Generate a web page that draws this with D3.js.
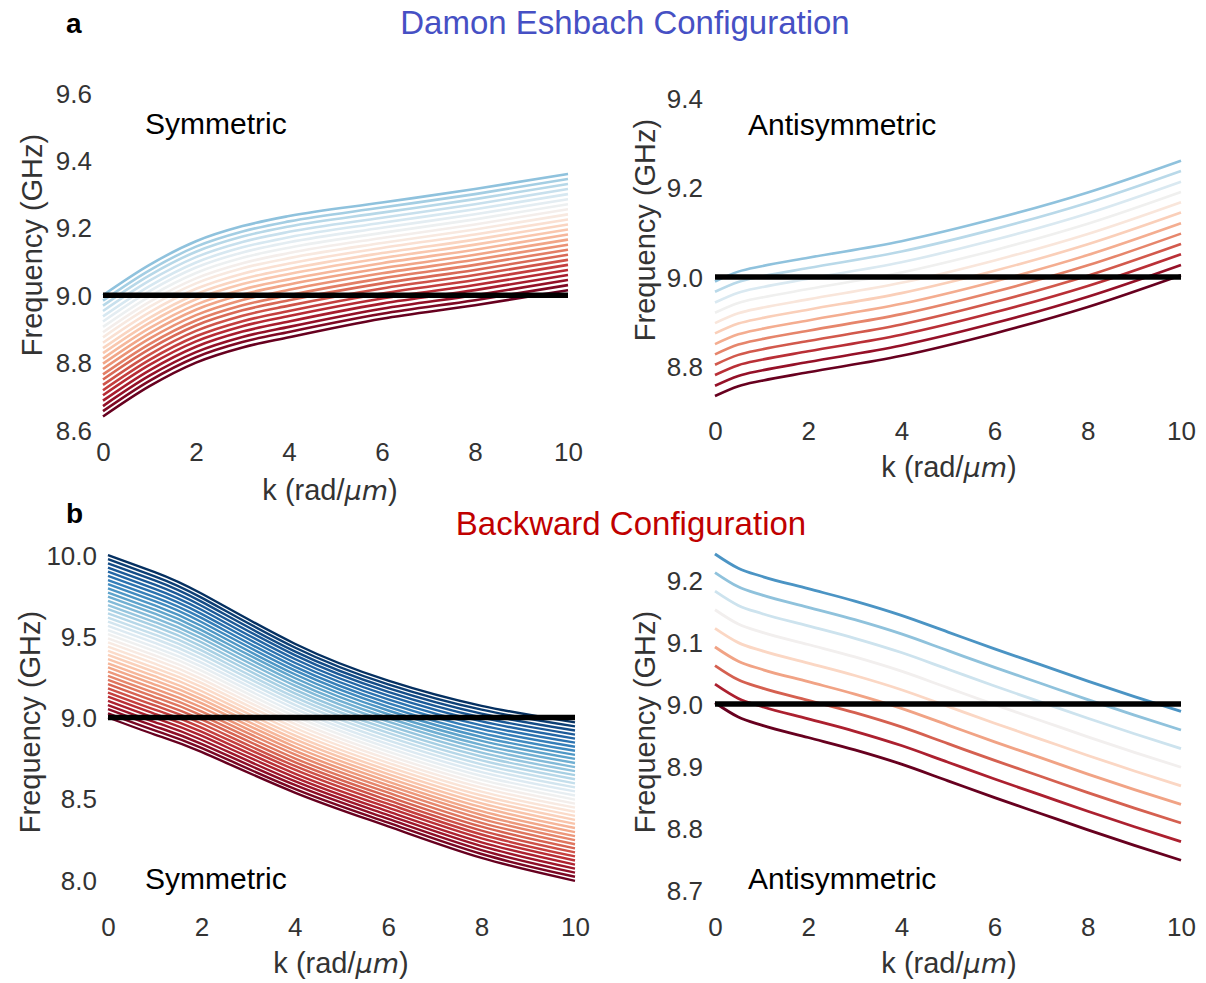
<!DOCTYPE html>
<html>
<head>
<meta charset="utf-8">
<script src="https://cdn.jsdelivr.net/npm/d3@7"></script>
<style>
body { margin: 0; background: #fff; }
svg { display: block; font-family: "Liberation Sans", Arial, sans-serif; }
</style>
</head>
<body>
<div id="chart"></div>
<script>
// ---- data ----
const kTicks = [0, 2, 4, 6, 8, 10]
const refFreq = 9.0

// (a) Damon Eshbach, symmetric: columns = frequency of every curve (top -> bottom) at each k
const aSymK = [0, 1, 2, 3, 4, 6, 8, 10]
const aSymCols = [
  [9.000, 8.984, 8.969, 8.953, 8.937, 8.922, 8.906, 8.890, 8.875, 8.859, 8.843, 8.828, 8.812, 8.797, 8.781, 8.765, 8.750, 8.734, 8.718, 8.703, 8.687, 8.671, 8.656, 8.640],
  [9.090, 9.074, 9.059, 9.043, 9.027, 9.012, 8.996, 8.980, 8.965, 8.949, 8.933, 8.918, 8.902, 8.887, 8.871, 8.855, 8.840, 8.824, 8.808, 8.793, 8.777, 8.761, 8.746, 8.730],
  [9.160, 9.144, 9.129, 9.113, 9.097, 9.082, 9.066, 9.050, 9.035, 9.019, 9.003, 8.988, 8.972, 8.957, 8.941, 8.925, 8.910, 8.894, 8.878, 8.863, 8.847, 8.831, 8.816, 8.800],
  [9.205, 9.189, 9.174, 9.158, 9.142, 9.127, 9.111, 9.095, 9.080, 9.064, 9.048, 9.033, 9.017, 9.002, 8.986, 8.970, 8.955, 8.939, 8.923, 8.908, 8.892, 8.876, 8.861, 8.845],
  [9.235, 9.219, 9.204, 9.188, 9.172, 9.157, 9.141, 9.125, 9.110, 9.094, 9.078, 9.063, 9.047, 9.032, 9.016, 9.000, 8.985, 8.969, 8.953, 8.938, 8.922, 8.906, 8.891, 8.875],
  [9.275, 9.260, 9.245, 9.230, 9.215, 9.200, 9.185, 9.170, 9.155, 9.140, 9.125, 9.110, 9.095, 9.080, 9.065, 9.050, 9.035, 9.020, 9.005, 8.990, 8.975, 8.960, 8.945, 8.930],
  [9.315, 9.300, 9.285, 9.270, 9.255, 9.240, 9.225, 9.210, 9.195, 9.180, 9.165, 9.150, 9.135, 9.120, 9.105, 9.090, 9.075, 9.060, 9.045, 9.030, 9.015, 9.000, 8.985, 8.970],
  [9.360, 9.345, 9.330, 9.315, 9.300, 9.285, 9.270, 9.255, 9.240, 9.225, 9.210, 9.195, 9.180, 9.165, 9.150, 9.135, 9.120, 9.105, 9.090, 9.075, 9.060, 9.045, 9.030, 9.015]
]
const aSymTicks = [8.6, 8.8, 9.0, 9.2, 9.4, 9.6]

// (a) Damon Eshbach, antisymmetric
const aAntiK = [0, 0.5, 1, 2, 4, 6, 8, 10]
const aAntiCols = [
  [8.990, 8.967, 8.943, 8.920, 8.897, 8.874, 8.850, 8.827, 8.804, 8.781, 8.757, 8.734],
  [9.012, 8.989, 8.965, 8.942, 8.919, 8.896, 8.872, 8.849, 8.826, 8.803, 8.779, 8.756],
  [9.024, 9.001, 8.977, 8.954, 8.931, 8.908, 8.884, 8.861, 8.838, 8.815, 8.791, 8.768],
  [9.043, 9.020, 8.996, 8.973, 8.950, 8.927, 8.903, 8.880, 8.857, 8.834, 8.810, 8.787],
  [9.080, 9.057, 9.033, 9.010, 8.987, 8.964, 8.940, 8.917, 8.894, 8.871, 8.847, 8.824],
  [9.130, 9.107, 9.083, 9.060, 9.037, 9.014, 8.990, 8.967, 8.944, 8.921, 8.897, 8.874],
  [9.189, 9.166, 9.142, 9.119, 9.096, 9.073, 9.049, 9.026, 9.003, 8.980, 8.956, 8.933],
  [9.260, 9.237, 9.213, 9.190, 9.167, 9.144, 9.120, 9.097, 9.074, 9.051, 9.027, 9.004]
]
const aAntiTicks = [8.8, 9.0, 9.2, 9.4]

// (b) Backward, symmetric
const bSymK = [0, 1, 2, 4, 6, 8, 10]
const bSymCols = [
  [10.000, 9.974, 9.949, 9.923, 9.897, 9.872, 9.846, 9.821, 9.795, 9.769, 9.744, 9.718, 9.692, 9.667, 9.641, 9.615, 9.590, 9.564, 9.538, 9.513, 9.487, 9.462, 9.436, 9.410, 9.385, 9.359, 9.333, 9.308, 9.282, 9.256, 9.231, 9.205, 9.179, 9.154, 9.128, 9.103, 9.077, 9.051, 9.026, 9.000],
  [9.895, 9.869, 9.844, 9.818, 9.792, 9.767, 9.741, 9.716, 9.690, 9.664, 9.639, 9.613, 9.587, 9.562, 9.536, 9.510, 9.485, 9.459, 9.433, 9.408, 9.382, 9.357, 9.331, 9.305, 9.280, 9.254, 9.228, 9.203, 9.177, 9.151, 9.126, 9.100, 9.074, 9.049, 9.023, 8.998, 8.972, 8.946, 8.921, 8.895],
  [9.763, 9.738, 9.713, 9.688, 9.663, 9.638, 9.613, 9.588, 9.563, 9.538, 9.513, 9.488, 9.463, 9.438, 9.413, 9.388, 9.363, 9.338, 9.313, 9.288, 9.263, 9.238, 9.213, 9.188, 9.163, 9.138, 9.113, 9.088, 9.063, 9.038, 9.013, 8.988, 8.963, 8.938, 8.913, 8.888, 8.863, 8.838, 8.813, 8.788],
  [9.454, 9.431, 9.407, 9.384, 9.360, 9.337, 9.313, 9.290, 9.266, 9.243, 9.219, 9.196, 9.172, 9.149, 9.125, 9.102, 9.078, 9.055, 9.031, 9.008, 8.984, 8.961, 8.937, 8.914, 8.890, 8.867, 8.843, 8.820, 8.796, 8.773, 8.749, 8.726, 8.702, 8.679, 8.655, 8.632, 8.608, 8.585, 8.561, 8.538],
  [9.227, 9.204, 9.181, 9.158, 9.135, 9.112, 9.089, 9.066, 9.043, 9.020, 8.997, 8.974, 8.951, 8.928, 8.905, 8.882, 8.859, 8.836, 8.813, 8.790, 8.767, 8.744, 8.721, 8.698, 8.675, 8.652, 8.629, 8.606, 8.583, 8.560, 8.537, 8.514, 8.491, 8.468, 8.445, 8.422, 8.399, 8.376, 8.353, 8.330],
  [9.072, 9.048, 9.024, 9.000, 8.976, 8.952, 8.928, 8.904, 8.880, 8.856, 8.832, 8.808, 8.784, 8.760, 8.736, 8.712, 8.688, 8.664, 8.640, 8.616, 8.592, 8.568, 8.544, 8.520, 8.496, 8.472, 8.448, 8.424, 8.400, 8.376, 8.352, 8.328, 8.304, 8.280, 8.256, 8.232, 8.208, 8.184, 8.160, 8.136],
  [8.970, 8.945, 8.920, 8.895, 8.870, 8.845, 8.820, 8.795, 8.770, 8.745, 8.720, 8.695, 8.670, 8.645, 8.620, 8.595, 8.570, 8.545, 8.520, 8.495, 8.470, 8.445, 8.420, 8.395, 8.370, 8.345, 8.320, 8.295, 8.270, 8.245, 8.220, 8.195, 8.170, 8.145, 8.120, 8.095, 8.070, 8.045, 8.020, 7.995]
]
const bSymTicks = [8.0, 8.5, 9.0, 9.5, 10.0]

// (b) Backward, antisymmetric: one row per curve (top -> bottom)
const bAntiK = [0, 0.5, 1, 2, 3, 4, 5, 6, 7, 8, 9, 10]
const bAntiRows = [
  [9.242, 9.219, 9.206, 9.186, 9.166, 9.143, 9.116, 9.089, 9.063, 9.037, 9.012, 8.988],
  [9.212, 9.189, 9.176, 9.156, 9.136, 9.113, 9.086, 9.059, 9.033, 9.007, 8.982, 8.958],
  [9.182, 9.159, 9.146, 9.126, 9.106, 9.083, 9.056, 9.029, 9.003, 8.977, 8.952, 8.928],
  [9.152, 9.129, 9.116, 9.096, 9.076, 9.053, 9.026, 8.999, 8.973, 8.947, 8.922, 8.898],
  [9.122, 9.099, 9.086, 9.066, 9.046, 9.023, 8.996, 8.969, 8.943, 8.917, 8.892, 8.868],
  [9.092, 9.069, 9.056, 9.036, 9.016, 8.993, 8.966, 8.939, 8.913, 8.887, 8.862, 8.838],
  [9.062, 9.039, 9.026, 9.006, 8.986, 8.963, 8.936, 8.909, 8.883, 8.857, 8.832, 8.808],
  [9.032, 9.009, 8.996, 8.976, 8.956, 8.933, 8.906, 8.879, 8.853, 8.827, 8.802, 8.778],
  [9.002, 8.979, 8.966, 8.946, 8.926, 8.903, 8.876, 8.849, 8.823, 8.797, 8.772, 8.748]
]
const bAntiTicks = [8.7, 8.8, 8.9, 9.0, 9.1, 9.2]

// turn column tables into one point list per curve
function fromCols(ks, cols) {
  return cols[0].map((_, i) => ks.map((k, j) => ({ k: k, f: cols[j][i] })))
}
function fromRows(ks, rows) {
  return rows.map(row => row.map((f, j) => ({ k: ks[j], f: f })))
}

const width = 1206
const height = 983

const panels = [
  { curves: fromCols(aSymK, aSymCols), ticks: aSymTicks, x0: 103, x1: 568,
    yDomain: [8.6, 9.6], yRange: [430, 93], tickRight: 92, xTickY: 452,
    xLabelX: 330, xLabelY: 490, yLabelX: 32, yLabelY: 245, curve: d3.curveMonotoneX,
    note: "Symmetric", noteX: 145, noteY: 123, tTop: 0.7, lw: 2.6 },
  { curves: fromCols(aAntiK, aAntiCols), ticks: aAntiTicks, x0: 715, x1: 1181,
    yDomain: [8.7, 9.4], yRange: [411.25, 98], tickRight: 703, xTickY: 431,
    xLabelX: 949, xLabelY: 467, yLabelX: 645, yLabelY: 230, curve: d3.curveMonotoneX,
    note: "Antisymmetric", noteX: 748, noteY: 124, tTop: 0.7, lw: 2.6 },
  { curves: fromCols(bSymK, bSymCols), ticks: bSymTicks, x0: 108, x1: 575,
    yDomain: [8.0, 10.0], yRange: [880, 555], tickRight: 97, xTickY: 927,
    xLabelX: 341, xLabelY: 963, yLabelX: 30, yLabelY: 722, curve: d3.curveNatural,
    note: "Symmetric", noteX: 145, noteY: 878, tTop: 1.0, lw: 2.4 },
  { curves: fromRows(bAntiK, bAntiRows), ticks: bAntiTicks, x0: 715, x1: 1181,
    yDomain: [8.7, 9.2], yRange: [890, 580], tickRight: 703, xTickY: 927,
    xLabelX: 949, xLabelY: 963, yLabelX: 645, yLabelY: 722, curve: d3.curveMonotoneX,
    note: "Antisymmetric", noteX: 748, noteY: 878, tTop: 0.8, lw: 2.8 }
]

const svg = d3.select("#chart")
  .append("svg")
  .attr("width", width)
  .attr("height", height)
  .attr("viewBox", [0, 0, width, height])

// headings
svg.append("text").attr("x", 66).attr("y", 23).attr("dy", "0.35em")
  .style("font-size", "28px").style("font-weight", "bold").text("a")
svg.append("text").attr("x", 66).attr("y", 513).attr("dy", "0.35em")
  .style("font-size", "28px").style("font-weight", "bold").text("b")
svg.append("text").attr("x", 625).attr("y", 22).attr("dy", "0.35em")
  .attr("text-anchor", "middle").attr("fill", "#4650c4")
  .style("font-size", "33px").text("Damon Eshbach Configuration")
svg.append("text").attr("x", 631).attr("y", 523).attr("dy", "0.35em")
  .attr("text-anchor", "middle").attr("fill", "#c00000")
  .style("font-size", "33px").text("Backward Configuration")

panels.forEach(p => {
  const x = d3.scaleLinear().domain([0, 10]).range([p.x0, p.x1])
  const y = d3.scaleLinear().domain(p.yDomain).range(p.yRange)
  const n = p.curves.length
  const g = svg.append("g")

  const line = d3.line()
    .x(d => x(d.k))
    .y(d => y(d.f))
    .curve(p.curve)

  // curves, dark red at the bottom up to blue at the top
  g.append("g")
    .selectAll("path")
    .data(p.curves.slice().reverse())
    .join("path")
    .attr("d", line)
    .attr("fill", "none")
    .attr("stroke", (d, i) => d3.interpolateRdBu(p.tTop * i / (n - 1)))
    .attr("stroke-width", p.lw)

  // reference line at 9 GHz
  g.append("line")
    .attr("x1", x(0)).attr("x2", x(10))
    .attr("y1", y(refFreq)).attr("y2", y(refFreq))
    .attr("stroke", "#000")
    .attr("stroke-width", 5.5)

  // x axis
  const xa = g.append("g")
    .attr("transform", `translate(0,${p.xTickY})`)
    .call(d3.axisBottom(x).tickValues(kTicks).tickSize(0).tickPadding(0))
  xa.select(".domain").remove()
  xa.selectAll("text").attr("y", 0).attr("dy", "0.35em")
    .attr("fill", "#333").style("font-size", "26px")

  // y axis
  const ya = g.append("g")
    .attr("transform", `translate(${p.tickRight},0)`)
    .call(d3.axisLeft(y).tickValues(p.ticks).tickFormat(d3.format(".1f")).tickSize(0).tickPadding(0))
  ya.select(".domain").remove()
  ya.selectAll("text").attr("dy", "0.35em")
    .attr("fill", "#333").style("font-size", "26px")

  // axis titles
  const xl = g.append("text")
    .attr("x", p.xLabelX).attr("y", p.xLabelY).attr("dy", "0.35em")
    .attr("text-anchor", "middle").attr("fill", "#333")
    .style("font-size", "29px")
  xl.append("tspan").text("k (rad/")
  xl.append("tspan").style("font-family", "'DejaVu Sans', sans-serif")
    .style("font-style", "italic").style("font-size", "27px").text("\u03bcm")
  xl.append("tspan").text(")")

  g.append("text")
    .attr("transform", `translate(${p.yLabelX},${p.yLabelY}) rotate(-90)`)
    .attr("dy", "0.35em")
    .attr("text-anchor", "middle").attr("fill", "#333")
    .style("font-size", "29px")
    .text("Frequency (GHz)")

  // mode name
  g.append("text")
    .attr("x", p.noteX).attr("y", p.noteY).attr("dy", "0.35em")
    .attr("fill", "#000")
    .style("font-size", "30px")
    .text(p.note)
})
</script>
</body>
</html>
